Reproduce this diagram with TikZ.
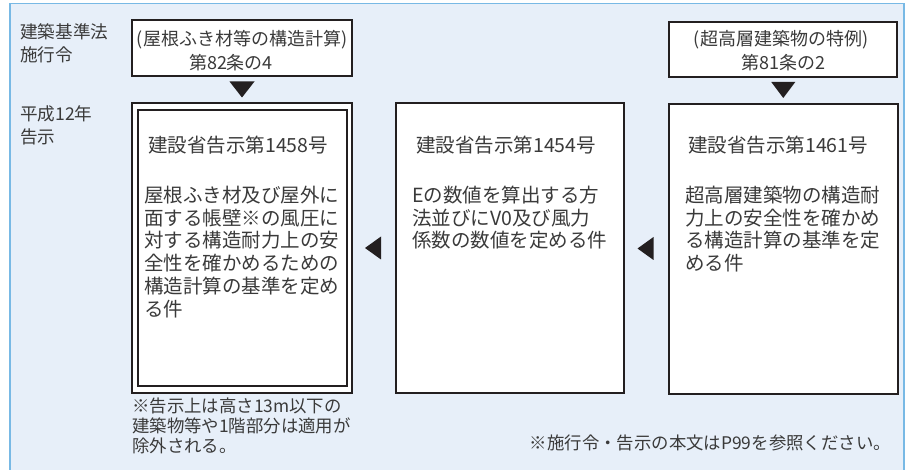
\documentclass[tikz,border=0pt]{standalone}
\usepackage{fontspec}
\setmainfont{Noto Sans CJK JP}
\usetikzlibrary{calc}
\definecolor{bgblue}{HTML}{E7EFF9}
\definecolor{frameblue}{HTML}{78B9E5}
\definecolor{txt}{HTML}{3A3A3A}
\definecolor{ink}{HTML}{231F20}
\tikzset{
  boxframe/.style={draw=ink, line width=1.8pt, fill=white, rectangle, inner sep=0pt},
  bodytxt/.style={anchor=base west, inner sep=0pt, text=txt, font=\fontsize{19.5}{22.8}\selectfont},
  toptxt/.style={anchor=base, inner sep=0pt, text=txt, font=\fontsize{18}{24}\selectfont},
  labeltxt/.style={anchor=base west, inner sep=0pt, text=txt, font=\fontsize{17.6}{23.5}\selectfont},
  notetxt/.style={anchor=base west, inner sep=0pt, text=txt, font=\fontsize{17.4}{20}\selectfont},
  arrowfill/.style={fill=ink, draw=none}
}
\begin{document}
\begin{tikzpicture}[x=1pt, y=-1pt]
\useasboundingbox (0,0) rectangle (913,470);
% background frame
\fill[bgblue] (10,3.5) rectangle (904,472);
\draw[frameblue, line width=1.4pt] (10,472) -- (10,3.5) -- (904,3.5) -- (904,472);

% left labels
\node[labeltxt] (lab1) at (20,38.2) {建築基準法};
\node[labeltxt] (lab2) at (20,61.7) {施行令};
\node[labeltxt] (lab3) at (20,120.7) {平成12年};
\node[labeltxt] (lab4) at (20,143.2) {告示};

% top boxes
\node[boxframe, minimum width=220pt, minimum height=56pt] (topL) at (242,48) {};
\node[toptxt] (topL1) at (242,45.5) {(屋根ふき材等の構造計算)};
\node[toptxt] (topL2) at (231,69.5) {第82条の4};

\node[boxframe, minimum width=228pt, minimum height=55pt] (topR) at (783,49.5) {};
\node[toptxt] (topR1) at (781,45.5) {(超高層建築物の特例)};
\node[toptxt] (topR2) at (783,69.5) {第81条の2};

% main boxes
\node[boxframe, minimum width=220pt, minimum height=290pt] (boxL) at (242,248) {};
\draw[ink, line width=1.8pt] (138,110) rectangle (347,386);
\node[boxframe, minimum width=228pt, minimum height=290pt] (boxM) at (510,248) {};
\node[boxframe, minimum width=229pt, minimum height=290pt] (boxR) at (783.5,249) {};

% left box text
\node[bodytxt] (hL) at (148,152.4) {建設省告示第1458号};
\node[bodytxt] (bL1) at (144,202.4) {屋根ふき材及び屋外に};
\node[bodytxt] (bL2) at (144,225.2) {面する帳壁※の風圧に};
\node[bodytxt] (bL3) at (144,248.0) {対する構造耐力上の安};
\node[bodytxt] (bL4) at (144,270.8) {全性を確かめるための};
\node[bodytxt] (bL5) at (144,293.6) {構造計算の基準を定め};
\node[bodytxt] (bL6) at (144,316.4) {る件};

% middle box text
\node[bodytxt] (hM) at (416,152.4) {建設省告示第1454号};
\node[bodytxt] (bM1) at (412,202.4) {Eの数値を算出する方};
\node[bodytxt] (bM2) at (412,225.2) {法並びにV0及び風力};
\node[bodytxt] (bM3) at (412,248.0) {係数の数値を定める件};

% right box text
\node[bodytxt] (hR) at (688,152.4) {建設省告示第1461号};
\node[bodytxt] (bR1) at (685,202.4) {超高層建築物の構造耐};
\node[bodytxt] (bR2) at (685,225.2) {力上の安全性を確かめ};
\node[bodytxt] (bR3) at (685,248.0) {る構造計算の基準を定};
\node[bodytxt] (bR4) at (685,270.8) {める件};

% notes
\node[notetxt] (n1) at (132,412.5) {※告示上は高さ13m以下の};
\node[notetxt] (n2) at (132,432.5) {建築物等や1階部分は適用が};
\node[notetxt] (n3) at (132,452.5) {除外される。};
\node[notetxt, anchor=base east] (n4) at (891,449.5) {※施行令・告示の本文はP99を参照ください。};

% arrowheads
\coordinate (dL) at ($(topL.south)!0.5!(boxL.north)$);
\coordinate (dR) at ($(topR.south)!0.5!(boxR.north)$);
\coordinate (hLM) at ($(boxL.east)!0.5!(boxM.west)$);
\coordinate (hMR) at ($(boxM.east)!0.5!(boxR.west)$);
\fill[arrowfill] ($(dL)+(-12.5,-8)$) -- ($(dL)+(12.5,-8)$) -- ($(dL)+(0,8)$) -- cycle;
\fill[arrowfill] ($(dR)+(-12,-8.5)$) -- ($(dR)+(12,-8.5)$) -- ($(dR)+(0,7.5)$) -- cycle;
\fill[arrowfill] ($(hLM)+(7,-11.5)$) -- ($(hLM)+(7,11.5)$) -- ($(hLM)+(-9,0)$) -- cycle;
\fill[arrowfill] ($(hMR)+(7,-11.5)$) -- ($(hMR)+(7,11.5)$) -- ($(hMR)+(-9,0)$) -- cycle;
\end{tikzpicture}
\end{document}
